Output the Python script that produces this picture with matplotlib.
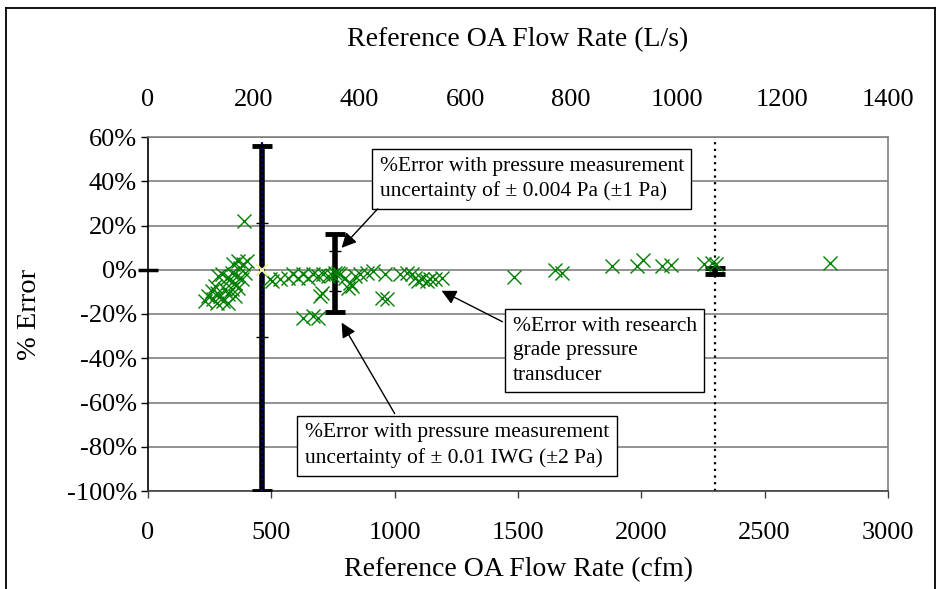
#import packages
import matplotlib
matplotlib.use("Agg")
import matplotlib.pyplot as plt
from matplotlib.lines import Line2D
from matplotlib.ticker import FuncFormatter

#data (cfm, % error)
flow_cfm = [243, 263, 279, 291, 304, 312, 324, 283, 300, 320, 332, 340, 352, 360, 364,
            372, 381, 385, 393, 401, 364, 344, 271, 259, 340, 352, 324, 279, 389, 231,
            494, 502, 534, 567, 587, 607, 628, 648, 668, 688, 709, 729, 745, 757, 770,
            777, 798, 818, 838, 858, 887, 911, 696, 704, 628, 668, 688, 810, 826, 947,
            968, 960, 1020, 1049, 1069, 1081, 1093, 1109, 1130, 1142, 1162, 1190,
            1482, 1648, 1680, 1883, 1984, 2008, 2085, 2121, 2255, 2287, 2304, 2765]
pct_error = [-11.7, -13, -10.4, -11.7, -14, -8.6, -10.8, -2.7, -1.8, -3.6, -4, -1.4, -5.9, -2.7, -8.1,
             0.9, -4, 2.7, -1.4, 4, 4, 2.7, -7.2, -9.5, -8.6, -11.7, -15, -15, 22, -14,
             -4, -5, -4, -3.6, -1.8, -3.6, -1.8, -3.6, -1.8, -2.7, -1.8, -2.7, -2.2, -1.5, -1.4,
             -1.8, -3.6, -5.9, -2.7, -1.8, -1.4, -0.5, -11.7, -10.4, -22, -20.8, -22, -8.1, -7.2, -12.6,
             -13, -1.8, -1.8, -1.4, -1.8, -3.6, -5, -4, -5, -4, -4, -3.6,
             -3.2, 0, -1.4, 1.8, 1.8, 4.5, 1.8, 2.3, 2.7, 3.2, 2.7, 3.2]

#uncertainty bars
bar_x = [461, 757, 2300]
bar_lo = [100, 19, 1.8]
bar_hi = [56, 16.3, 1.0]
inner_x = [461, 757]
inner_lo = [30.5, 9.5]
inner_hi = [21, 8.6]
dotted_x = [461, 2300]
dotted_colors = ['#000080', 'black']

cfm_ticks = [0, 500, 1000, 1500, 2000, 2500, 3000]
ls_ticks = [0, 200, 400, 600, 800, 1000, 1200, 1400]
y_ticks = [60, 40, 20, 0, -20, -40, -60, -80, -100]

plt.rcParams['font.family'] = ['Liberation Serif', 'DejaVu Serif']

fig = plt.figure(figsize=(9.37, 5.89), dpi=100)
ax = fig.add_axes([148/937, 1-491/589, 740/937, 354/589])

#outer chart frame
for xs, ys in [([6/937, 6/937], [0, 1-8/589]), ([6/937, 935/937], [1-8/589, 1-8/589]),
               ([935/937, 935/937], [0, 1-8/589])]:
    fig.add_artist(Line2D(xs, ys, color='black', lw=1.3))

ax.set_xlim(0, 3000)
ax.set_ylim(-100, 60)
ax.set_xticks(cfm_ticks)
ax.set_yticks(y_ticks)
ax.yaxis.set_major_formatter(FuncFormatter(lambda v, p: f"{v:.0f}%"))
ax.yaxis.grid(True, color='#808080', lw=1.2)
ax.set_axisbelow(True)
ax.tick_params(axis='x', direction='out', length=5, width=1, color='#404040', pad=17, labelsize=19)
ax.tick_params(axis='y', direction='out', length=5, width=1, color='black', pad=3, labelsize=19)
ax.spines['left'].set_color('black')
ax.spines['bottom'].set_color('#404040')
ax.spines['top'].set_color('#808080')
ax.spines['right'].set_color('#808080')
for s in ax.spines.values():
    s.set_linewidth(1.2)

ax.set_xlabel("Reference OA Flow Rate (cfm)", fontsize=20)
ax.xaxis.set_label_coords(0.5, -0.187)
ax.set_ylabel("% Error", fontsize=20.5)
ax.yaxis.set_label_coords(-0.143, 0.5)

#top axis in L/s
ax2 = ax.twiny()
ax2.set_xlim(0, 1400)
ax2.set_xticks(ls_ticks)
ax2.tick_params(axis='x', length=0, pad=19, labelsize=19)
for s in ax2.spines.values():
    s.set_visible(False)
ax2.set_xlabel("Reference OA Flow Rate (L/s)", fontsize=20)
ax2.xaxis.set_label_coords(0.5, 1.257)

#vertical dotted lines
for xv, c in zip(dotted_x, dotted_colors):
    ax.axvline(xv, color=c, ls=(0, (1, 2)), lw=1.6, zorder=2)

#error bars
ax.errorbar(bar_x, [0]*len(bar_x), yerr=[bar_lo, bar_hi], fmt='none', ecolor='black',
            elinewidth=4, capsize=7, capthick=3.5, zorder=3)
ax.errorbar(inner_x, [0]*len(inner_x), yerr=[inner_lo, inner_hi], fmt='none', ecolor='black',
            elinewidth=0, capsize=4, capthick=1, zorder=3)
ax.plot([461, 461], [-100, 56], color='#0000a0', ls=(0, (1, 2)), lw=1.3, zorder=4)
ax.plot([0], [0], marker='_', ms=14, mew=2.5, color='black', clip_on=False, zorder=4)

#data
ax.plot(flow_cfm, pct_error, 'x', color='#008000', ms=10, mew=1.0, zorder=5)
ax.plot([461], [0], 'x', color='#f0f0a0', ms=8, mew=1.5, zorder=6)

#annotations
box = dict(boxstyle='square,pad=0.35', fc='white', ec='black', lw=1)
arrow = dict(arrowstyle='-|>', color='black', lw=1, mutation_scale=22, shrinkA=0, shrinkB=0)
ax.text(939, 41, "%Error with pressure measurement\nuncertainty of \u00b1 0.004 Pa (\u00b11 Pa)",
        fontsize=15.5, ha='left', va='center', linespacing=1.4, bbox=box, zorder=7)
ax.annotate('', xy=(785, 9.9), xytext=(931, 27.5), arrowprops=arrow, zorder=7)
ax.text(1478, -36.6, "%Error with research\ngrade pressure\ntransducer",
        fontsize=15.5, ha='left', va='center', linespacing=1.4, bbox=box, zorder=7)
ax.annotate('', xy=(1190, -9.5), xytext=(1437, -23.5), arrowprops=arrow, zorder=7)
ax.text(636, -79.5, "%Error with pressure measurement\nuncertainty of \u00b1 0.01 IWG (\u00b12 Pa)",
        fontsize=15.5, ha='left', va='center', linespacing=1.4, bbox=box, zorder=7)
ax.annotate('', xy=(785, -23.9), xytext=(1000, -65), arrowprops=arrow, zorder=7)

fig.savefig("out.png", dpi=100)
